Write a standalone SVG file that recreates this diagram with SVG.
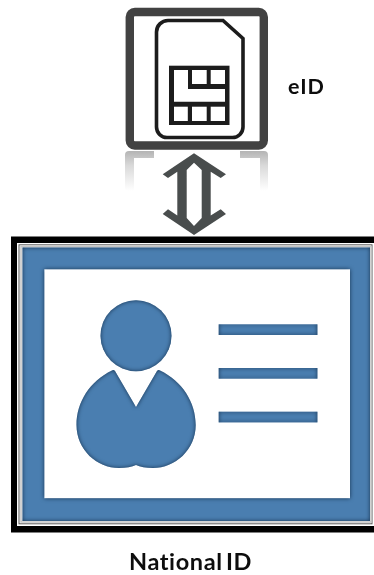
<svg xmlns="http://www.w3.org/2000/svg" width="374" height="575" viewBox="0 0 374 575">
<style>
.lbl{font-family:"Lato","Open Sans","Liberation Sans",sans-serif;font-weight:700;fill:#111;filter:url(#softtext)}
.blue{fill:#4a7eb0;filter:url(#inset)}
.ink{fill:none;stroke:#1c1c1c}
.cell{fill:#fff}
</style>
<defs>
<filter id="inset" x="-10%" y="-10%" width="120%" height="120%" color-interpolation-filters="sRGB">
<feGaussianBlur in="SourceGraphic" stdDeviation="0.5" result="soft"/>
<feComponentTransfer in="SourceAlpha" result="inv"><feFuncA type="table" tableValues="1 0"/></feComponentTransfer>
<feGaussianBlur in="inv" stdDeviation="2" result="b"/>
<feFlood flood-color="#16324f" flood-opacity="1"/>
<feComposite in2="b" operator="in"/>
<feComposite in2="SourceAlpha" operator="in" result="edge"/>
<feMerge><feMergeNode in="soft"/><feMergeNode in="edge"/></feMerge>
</filter>
<filter id="soft" x="-5%" y="-5%" width="110%" height="110%"><feGaussianBlur stdDeviation="0.45"/></filter>
<filter id="softtext" x="-5%" y="-10%" width="110%" height="120%"><feGaussianBlur stdDeviation="0.3"/></filter>
<linearGradient id="refl" x1="0" y1="0" x2="0" y2="1">
<stop offset="0" stop-color="#b4b4b4"/>
<stop offset="0.35" stop-color="#d8d8d8"/>
<stop offset="1" stop-color="#fff"/>
</linearGradient>
</defs>
<rect width="374" height="575" fill="#fff"/>
<g id="node-eid">
<g id="eid-reflection" filter="url(#soft)">
<rect x="125" y="151" width="143" height="40" rx="4" fill="url(#refl)"/>
<rect x="134" y="158" width="126" height="40" fill="#fff"/>
</g>
<rect x="154" y="150" width="86" height="86" fill="#fff"/>
<g filter="url(#soft)">
<rect x="129.8" y="12" width="134" height="133.5" rx="5" fill="#fff" stroke="#424242" stroke-width="8.4"/>
<path class="ink" stroke-width="3.6" d="M168,20.5H223L243,38.5V127A10.5,10.5 0 0 1 232.5,137.5H167A10.5,10.5 0 0 1 156.5,127V32A11.5,11.5 0 0 1 168,20.5Z"/>
<rect x="169" y="65.7" width="60.5" height="59.3" fill="#1c1c1c"/>
<path class="cell" d="M174,70H188V89H225V101.7H174Z"/>
<rect class="cell" x="192" y="70" width="14.7" height="14"/>
<rect class="cell" x="210.7" y="70" width="14.3" height="14"/>
<rect class="cell" x="174" y="106.7" width="13.8" height="14.3"/>
<rect class="cell" x="192" y="106.7" width="14.7" height="14.3"/>
<rect class="cell" x="210.7" y="106.7" width="14.3" height="14.3"/>
</g>
<text class="lbl" x="288" y="94" font-size="21.5" letter-spacing="1">eID</text>
</g>
<g id="connectors">
<path filter="url(#soft)" fill="#494d4d" fill-rule="evenodd" d="M194,153.3L226,174.3L220.7,178L210.7,171.7V215.6L220.7,209.3L226,214L194,235L162.7,214L168,209.3L177.3,215.6V171.7L168,178L162.7,174.3Z M194,162.7L186.7,170V218L194,226L201.7,218V170Z"/>
</g>
<g id="node-national-id">
<rect x="11" y="236.5" width="363" height="296" fill="#000"/>
<rect x="17" y="243" width="357" height="283" fill="#fff"/>
<rect x="19" y="244.8" width="353" height="279" fill="none" stroke="#5a5a5a" stroke-width="1"/>
<rect x="21" y="246.5" width="350" height="275.5" fill="none" stroke="#c4c4c4" stroke-width="1.5"/>
<path class="blue" fill-rule="evenodd" d="M22.5,247.5H370V521H22.5Z M44.3,269.3V498.3H350V269.3Z"/>
<g id="id-photo">
<circle class="blue" cx="136" cy="335.7" r="35.5"/>
<path class="blue" d="M112,370.5Q113.5,369.5 115,371L136,407L157,371Q158.5,369.5 160,370.5C182,381 195.7,402 195.7,425C195.7,450 175,468 153,468C146,468 140,467 136,465C132,467 126,468 119,468C97,468 76.5,450 76.5,425C76.5,402 90,381 112,370.5Z"/>
</g>
<g id="id-lines">
<rect class="blue" x="218.7" y="324.3" width="98.7" height="10.7"/>
<rect class="blue" x="218.7" y="368" width="98.7" height="10.7"/>
<rect class="blue" x="218.7" y="411.7" width="98.7" height="10.7"/>
</g>
<text class="lbl" x="129" y="570" font-size="23.5" letter-spacing=".6" word-spacing="-3">National ID</text>
</g>
</svg>
